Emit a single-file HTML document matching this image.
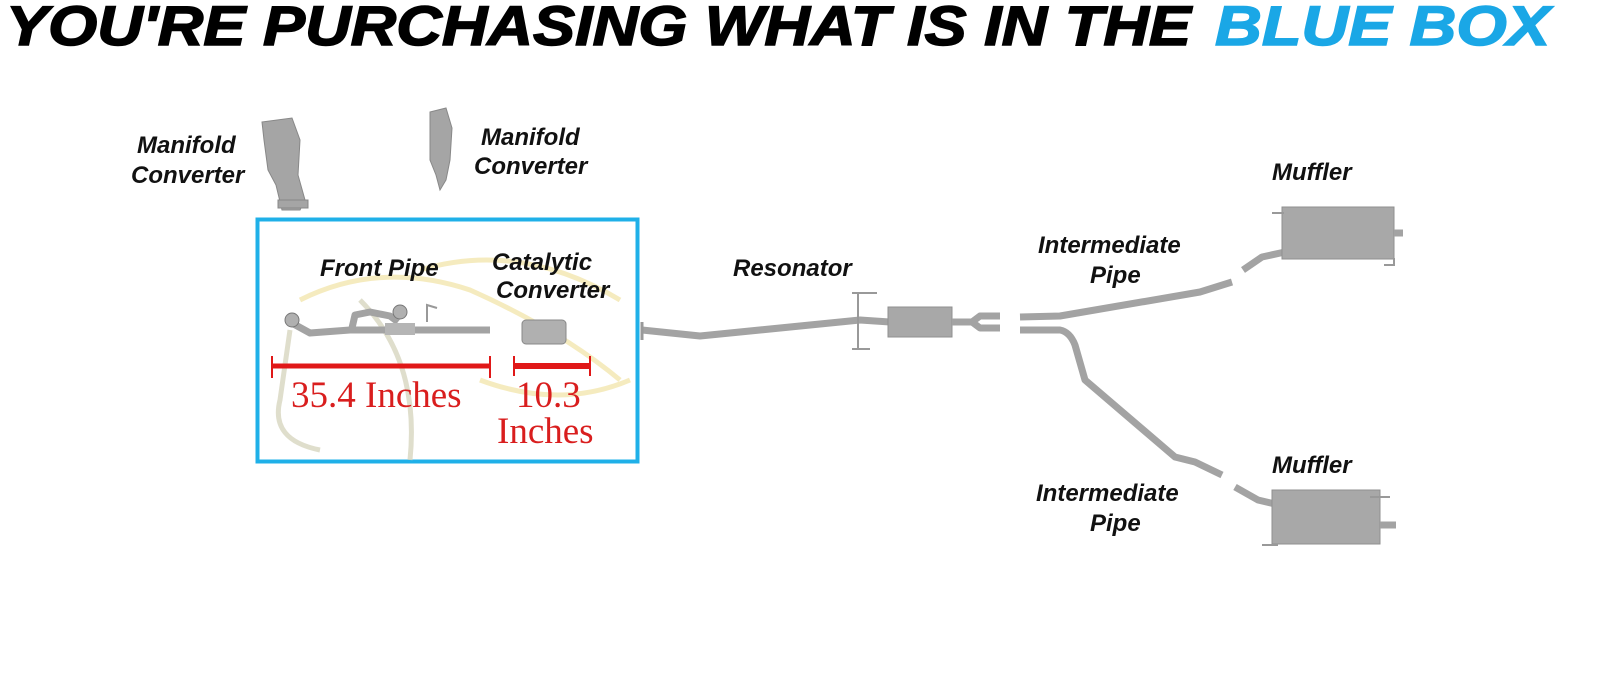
<!DOCTYPE html>
<html><head><meta charset="utf-8"><style>
html,body{margin:0;padding:0;background:#fff;width:1600px;height:685px;overflow:hidden}
svg{display:block}
.l{font-family:"Liberation Sans",sans-serif;font-weight:bold;font-style:italic;font-size:24px;fill:#111}
.r{font-family:"Liberation Serif",serif;font-size:37px;fill:#d91e1e}
.p{fill:none;stroke:#a3a3a3;stroke-width:7;stroke-linecap:butt;stroke-linejoin:round}
.m{fill:#a8a8a8;stroke:#8f8f8f;stroke-width:1}
</style></head><body>
<svg width="1600" height="685" viewBox="0 0 1600 685" xmlns="http://www.w3.org/2000/svg">
<text x="6" y="45" font-family="Liberation Sans, sans-serif" font-weight="bold" font-style="italic" font-size="56" textLength="1185" lengthAdjust="spacingAndGlyphs" fill="#000" stroke="#000" stroke-width="1.5">YOU'RE PURCHASING WHAT IS IN THE</text>
<text x="1215" y="45" font-family="Liberation Sans, sans-serif" font-weight="bold" font-style="italic" font-size="56" textLength="335" lengthAdjust="spacingAndGlyphs" fill="#1aa7e6" stroke="#1aa7e6" stroke-width="1.5">BLUE BOX</text>

<g fill="#a5a5a5" stroke="#888" stroke-width="1">
<path d="M262 122 L292 118 L300 140 L298 175 L305 200 L300 210 L282 210 L276 185 L268 170 L264 140 Z"/>
<rect x="278" y="200" width="30" height="8"/>
<path d="M430 112 L446 108 L452 128 L450 160 L446 180 L440 190 L436 175 L430 160 Z"/>
</g>
<text class="l" x="137" y="153">Manifold</text>
<text class="l" x="131" y="183">Converter</text>
<text class="l" x="481" y="145">Manifold</text>
<text class="l" x="474" y="174">Converter</text>

<rect x="257.5" y="219.5" width="380" height="242" fill="none" stroke="#1fb0e8" stroke-width="4"/>
<g fill="none" stroke="#f3e7b0" stroke-width="5" opacity="0.8">
<path d="M300 300 Q380 260 470 290 Q560 330 620 380"/>
<path d="M420 270 Q520 240 620 300"/>
<path d="M480 380 Q560 410 630 380"/>
<path d="M360 300 Q420 360 410 460" stroke="#d8d6c0"/>
<path d="M290 330 L280 400 Q270 440 320 450" stroke="#d8d6c0"/>
</g>
<text class="l" x="320" y="276">Front Pipe</text>
<text class="l" x="492" y="270">Catalytic</text>
<text class="l" x="496" y="298">Converter</text>
<path class="p" d="M290 322 L310 333 L350 330 L490 330"/>
<path class="p" d="M352 328 L355 315 L370 312 L390 316 L398 322"/>
<circle cx="292" cy="320" r="7" fill="#b0b0b0" stroke="#777"/>
<circle cx="400" cy="312" r="7" fill="#b0b0b0" stroke="#777"/>
<rect x="385" y="323" width="30" height="12" fill="#b5b5b5"/>
<path d="M427 322 L427 305 L437 308" fill="none" stroke="#999" stroke-width="2"/>
<rect x="522" y="320" width="44" height="24" rx="4" fill="#b0b0b0" stroke="#888"/>
<g stroke="#e01818">
<line x1="272" y1="366" x2="490" y2="366" stroke-width="5"/>
<line x1="272" y1="356" x2="272" y2="378" stroke-width="2"/>
<line x1="490" y1="356" x2="490" y2="378" stroke-width="2"/>
<line x1="514" y1="366" x2="590" y2="366" stroke-width="6"/>
<line x1="514" y1="356" x2="514" y2="376" stroke-width="2"/>
<line x1="590" y1="356" x2="590" y2="376" stroke-width="2"/>
</g>
<text class="r" x="291" y="407">35.4 Inches</text>
<text class="r" x="516" y="407">10.3</text>
<text class="r" x="497" y="443">Inches</text>

<path class="p" d="M642 330 L700 336 L860 320 L890 322"/>
<line x1="642" y1="322" x2="642" y2="340" stroke="#999" stroke-width="3"/>
<path d="M852 293 L858 293 L858 349 L870 349 M852 349 L858 349 M858 293 L877 293" fill="none" stroke="#999" stroke-width="2"/>
<rect x="888" y="307" width="64" height="30" fill="#a8a8a8" stroke="#8f8f8f"/>
<path class="p" d="M952 322 L972 322 L980 316 L1000 316 M972 322 L980 328 L1000 328" stroke-width="6"/>
<text class="l" x="733" y="276">Resonator</text>

<path class="p" d="M1020 317 L1060 316 L1200 292 L1232 282"/>
<path class="p" d="M1243 270 L1262 257 L1285 252"/>
<rect x="1282" y="207" width="112" height="52" class="m"/>
<path class="p" d="M1394 233 L1403 233" stroke-width="8"/>
<path d="M1272 213 L1284 213 M1384 265 L1394 265 L1394 258" stroke="#999" stroke-width="2" fill="none"/>
<text class="l" x="1038" y="253">Intermediate</text>
<text class="l" x="1090" y="283">Pipe</text>
<text class="l" x="1272" y="180">Muffler</text>

<path class="p" d="M1020 330 L1060 330 Q1070 332 1075 345 L1085 380 L1175 457 L1195 462 L1222 475"/>
<path class="p" d="M1235 487 L1258 500 L1275 504"/>
<rect x="1272" y="490" width="108" height="54" class="m"/>
<path class="p" d="M1380 525 L1396 525" stroke-width="8"/>
<path d="M1370 497 L1390 497 M1262 545 L1278 545" stroke="#999" stroke-width="2" fill="none"/>
<text class="l" x="1036" y="501">Intermediate</text>
<text class="l" x="1090" y="531">Pipe</text>
<text class="l" x="1272" y="473">Muffler</text>
</svg>
</body></html>
